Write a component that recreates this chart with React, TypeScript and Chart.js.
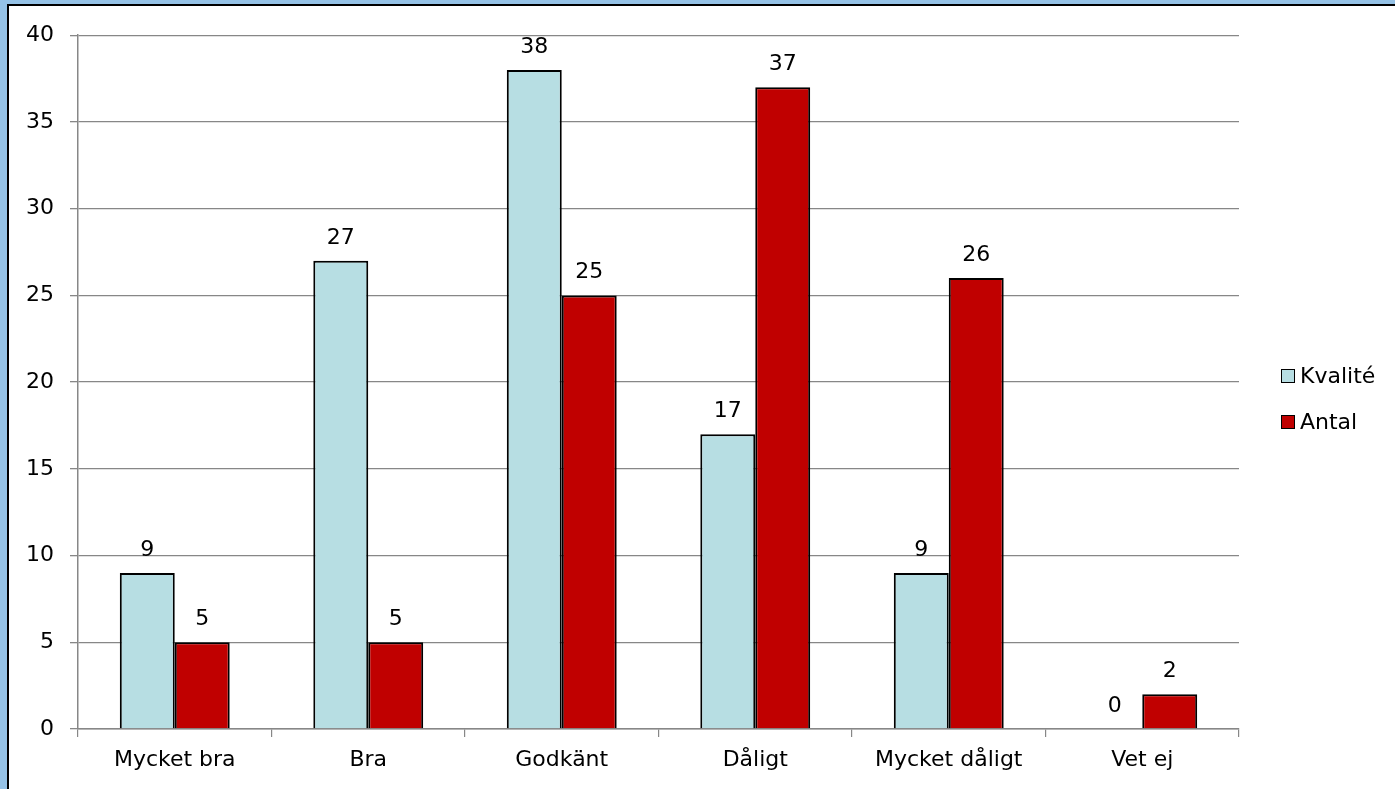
import React, { useEffect, useRef } from "react";
import { Chart, registerables } from "chart.js";

Chart.register(...registerables);

const categories = ["Mycket bra", "Bra", "Godkänt", "Dåligt", "Mycket dåligt", "Vet ej"];
const seriesNames = ["Kvalité", "Antal"];
const kvaliteValues = [9, 27, 38, 17, 9, 0];
const antalValues = [5, 5, 25, 37, 26, 2];
const yMin = 0;
const yMax = 40;
const yStep = 5;

const COLORS = ["#B7DEE3", "#C00000"];
const FONT_FAMILY = "'DejaVu Sans', 'Liberation Sans', Arial, sans-serif";
const FONT_SIZE = 22;
const GRID = "#878787";

const labelPlugin = {
  id: "barValueLabels",
  afterDatasetsDraw(chart: any) {
    const ctx = chart.ctx;
    ctx.save();
    ctx.font = `${FONT_SIZE}px ${FONT_FAMILY}`;
    ctx.fillStyle = "#000";
    ctx.textAlign = "center";
    ctx.textBaseline = "alphabetic";
    chart.data.datasets.forEach((ds: any, di: number) => {
      const meta = chart.getDatasetMeta(di);
      meta.data.forEach((el: any, i: number) => {
        ctx.fillText(String(ds.data[i]), el.x, el.y - 17);
      });
    });
    ctx.restore();
  },
};

function ChartCanvas() {
  const ref = useRef<HTMLCanvasElement | null>(null);
  useEffect(() => {
    if (!ref.current) return;
    const chart = new Chart(ref.current, {
      type: "bar",
      data: {
        labels: categories,
        datasets: [
          {
            label: seriesNames[0],
            data: kvaliteValues,
            backgroundColor: COLORS[0],
            borderColor: "#000",
            borderWidth: 2,
            categoryPercentage: 0.568,
            barPercentage: 1,
          },
          {
            label: seriesNames[1],
            data: antalValues,
            backgroundColor: COLORS[1],
            borderColor: "#000",
            borderWidth: 2,
            categoryPercentage: 0.568,
            barPercentage: 1,
          },
        ],
      },
      options: {
        animation: false,
        responsive: false,
        maintainAspectRatio: false,
        layout: { padding: { top: 29, right: 156, left: 0, bottom: 0 } },
        plugins: {
          legend: { display: false },
          tooltip: { enabled: false },
        },
        scales: {
          x: {
            grid: {
              display: true,
              drawOnChartArea: false,
              drawTicks: true,
              tickLength: 8,
              color: GRID,
              lineWidth: 1.2,
            },
            border: { display: true, color: GRID, width: 1.5 },
            ticks: {
              color: "#000",
              font: { family: FONT_FAMILY, size: FONT_SIZE },
              padding: 10,
              maxRotation: 0,
              autoSkip: false,
            },
            afterFit(scale: any) {
              scale.height = 60;
            },
          },
          y: {
            min: yMin,
            max: yMax,
            ticks: {
              stepSize: yStep,
              color: "#000",
              font: { family: FONT_FAMILY, size: FONT_SIZE },
              padding: 16,
            },
            grid: {
              color: GRID,
              lineWidth: 1.3,
              tickLength: 8,
              drawTicks: true,
            },
            border: { display: true, color: GRID, width: 1.5 },
            afterFit(scale: any) {
              scale.width = 69;
            },
          },
        },
      },
      plugins: [labelPlugin],
    });
    return () => chart.destroy();
  }, []);
  return (
    <canvas
      ref={ref}
      width={1386}
      height={783}
      style={{ position: "absolute", left: 0, top: 0, width: 1386, height: 783 }}
    />
  );
}

export default function App() {
  const legendItem = (name: string, color: string, top: number) => (
    <div
      key={name}
      style={{
        position: "absolute",
        left: 1281,
        top,
        display: "flex",
        alignItems: "center",
        fontFamily: FONT_FAMILY,
        fontSize: FONT_SIZE,
        color: "#000",
        lineHeight: "26px",
        whiteSpace: "nowrap",
      }}
    >
      <span
        style={{
          display: "inline-block",
          width: 12,
          height: 12,
          border: "1px solid #000",
          background: color,
          marginRight: 5,
        }}
      />
      <span>{name}</span>
    </div>
  );
  return (
    <div
      style={{
        position: "fixed",
        left: 0,
        top: 0,
        width: 1395,
        height: 789,
        background: "#95C2E6",
        overflow: "hidden",
      }}
    >
      <div
        style={{
          position: "absolute",
          left: 7,
          top: 4,
          width: 1386,
          height: 783,
          borderLeft: "2px solid #000",
          borderTop: "2px solid #000",
          background: "#fff",
        }}
      >
        <ChartCanvas />
      </div>
      {legendItem(seriesNames[0], COLORS[0], 363)}
      {legendItem(seriesNames[1], COLORS[1], 409)}
    </div>
  );
}
